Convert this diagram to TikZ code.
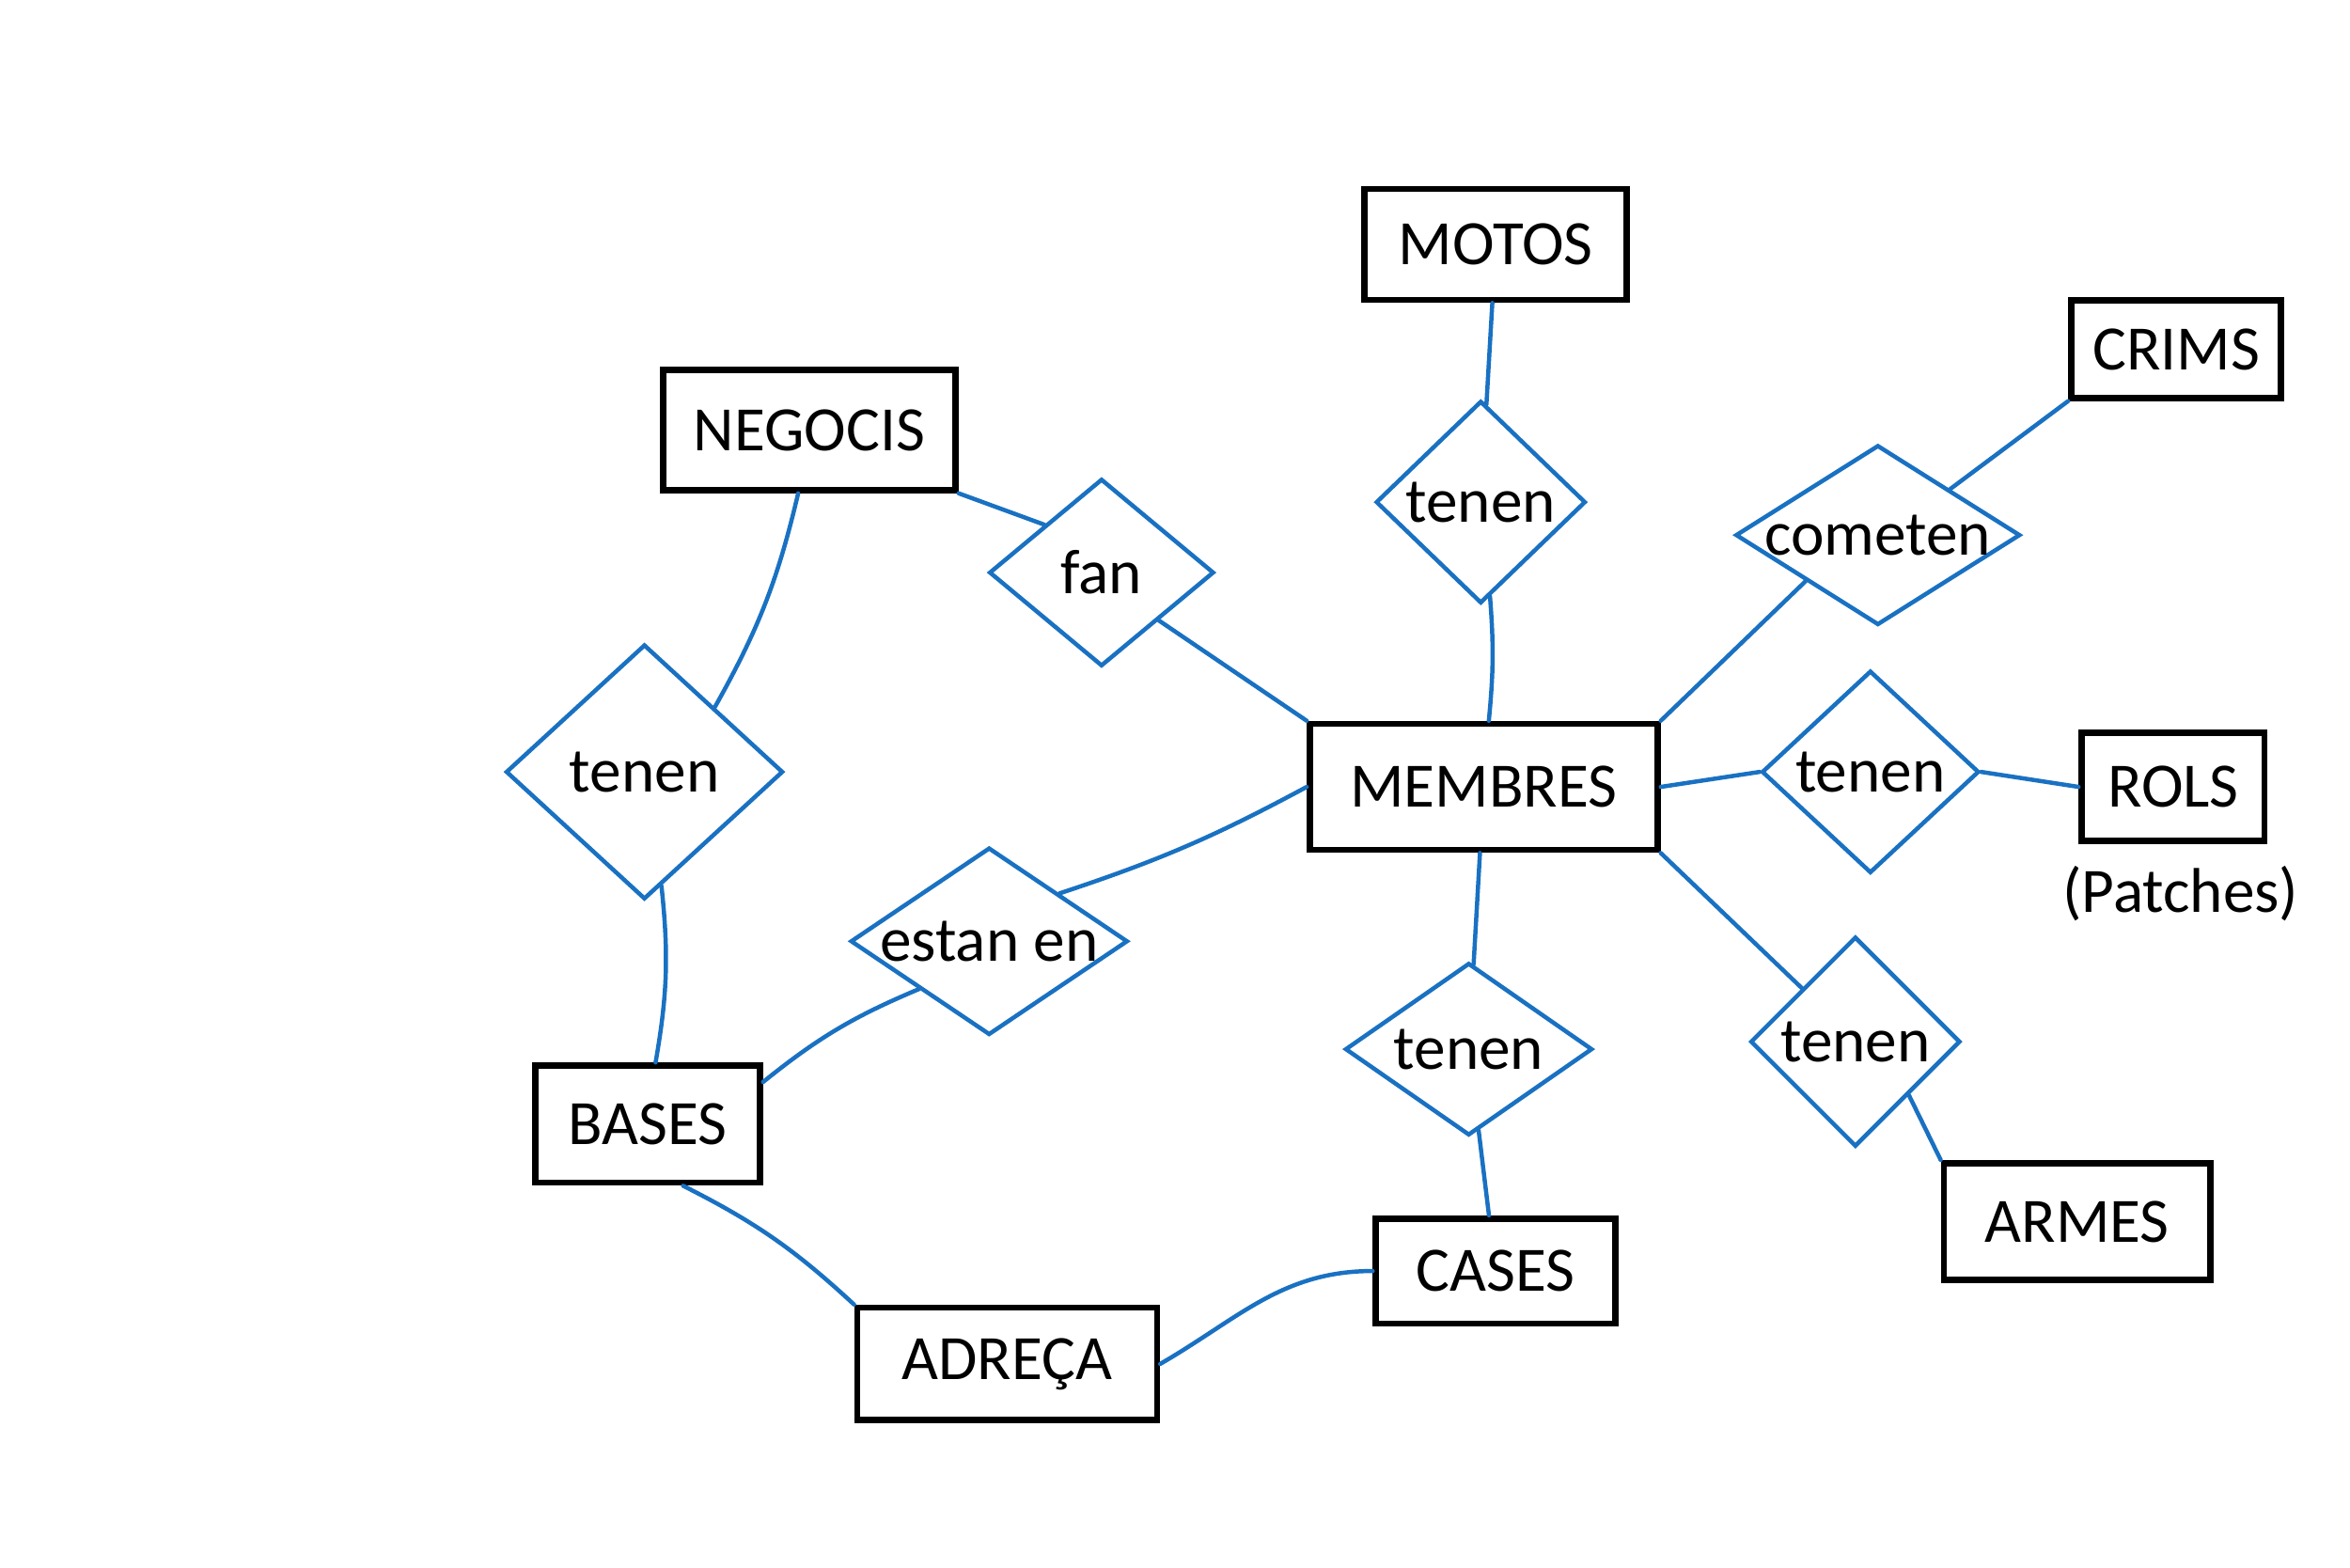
\documentclass[tikz,border=0pt]{standalone}
\usepackage{fontspec}
\setmainfont{Carlito}
\usetikzlibrary{shapes.geometric}
\definecolor{sketchblue}{HTML}{1971C2}
\newcommand{\dtext}[1]{\makebox[0pt][c]{#1}}
\begin{document}
\begin{tikzpicture}[x=0.1mm,y=-0.1mm,
  entity/.style={draw=black, line width=1.2pt, rectangle, inner sep=0pt, font=\fontsize{12}{14}\selectfont},
  relation/.style={draw=sketchblue, line width=0.8pt, diamond, inner sep=0pt, font=\fontsize{12}{14}\selectfont},
  link/.style={draw=sketchblue, line width=0.8pt, line cap=round},
  note/.style={font=\fontsize{12}{14}\selectfont}]
\useasboundingbox[fill=white] (0,0) rectangle (1568,1046);

% entities
\node[entity, minimum width=17.5mm, minimum height=7.4mm] (motos) at (998,163) {MOTOS};
\node[entity, minimum width=14mm, minimum height=6.5mm] (crims) at (1452,233) {CRIMS};
\node[entity, minimum width=19.5mm, minimum height=8mm] (negocis) at (540,287) {NEGOCIS};
\node[entity, minimum width=23.2mm, minimum height=8.4mm] (membres) at (990,525) {MEMBRES};
\node[entity, minimum width=12.2mm, minimum height=7.2mm] (rols) at (1450,525) {ROLS};
\node[note] (patches) at (1455,596) {(Patches)};
\node[entity, minimum width=15mm, minimum height=7.8mm] (bases) at (432,750) {BASES};
\node[entity, minimum width=16mm, minimum height=7mm] (cases) at (998,848) {CASES};
\node[entity, minimum width=17.8mm, minimum height=7.8mm] (armes) at (1386,815) {ARMES};
\node[entity, minimum width=20mm, minimum height=7.5mm] (adreca) at (672,910) {ADREÇA};

% relationships
\node[relation, minimum width=14mm, minimum height=13.5mm] (r1) at (988,335) {\dtext{tenen}};
\node[relation, minimum width=19mm, minimum height=12mm] (cometen) at (1253,357) {\dtext{cometen}};
\node[relation, minimum width=15mm, minimum height=12.5mm] (fan) at (735,382) {\dtext{fan}};
\node[relation, minimum width=18.5mm, minimum height=17mm] (r2) at (430,515) {\dtext{tenen}};
\node[relation, minimum width=14.5mm, minimum height=13.5mm] (r3) at (1248,515) {\dtext{tenen}};
\node[relation, minimum width=18.5mm, minimum height=12.5mm] (estan) at (660,628) {\dtext{estan en}};
\node[relation, minimum width=16.5mm, minimum height=11.5mm] (r4) at (980,700) {\dtext{tenen}};
\node[relation, minimum width=14mm, minimum height=14mm] (r5) at (1238,695) {\dtext{tenen}};

% connectors
\draw[link] (motos) -- (r1);
\draw[link] (r1) to[bend left=5] (membres);
\draw[link] (cometen.north east) -- (crims.south west);
\draw[link] (cometen.south west) -- (membres.north east);
\draw[link] (negocis.south east) -- (fan.north west);
\draw[link] (fan.south east) -- (membres.north west);
\draw[link] (negocis.260) to[bend left=8] (r2.north east);
\draw[link] (r2) to[bend left=8] (bases);
\draw[link] (membres.east) -- (r3.west);
\draw[link] (r3.east) -- (rols.west);
\draw[link] (membres.west) to[bend left=5] (estan.north east);
\draw[link] (estan.south west) to[bend right=8] (bases.20);
\draw[link] (membres) -- (r4);
\draw[link] (r4) -- (cases);
\draw[link] (membres.south east) -- (r5.north west);
\draw[link] (r5.south east) -- (armes.north west);
\draw[link] (bases.-60) to[bend left=8] (adreca.north west);
\draw[link] (adreca.east) to[out=30,in=180] (cases.west);
\end{tikzpicture}
\end{document}
